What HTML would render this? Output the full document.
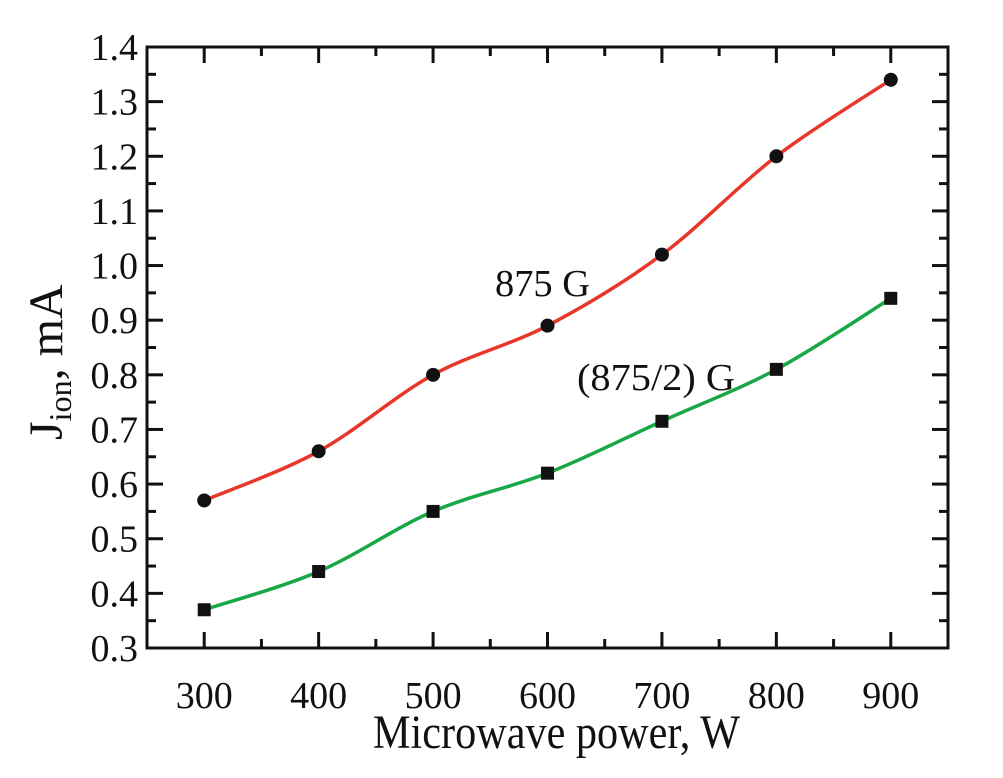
<!DOCTYPE html>
<html><head><meta charset="utf-8"><style>
body{margin:0;background:#fff;}
svg text{font-family:"Liberation Serif",serif;fill:#111;}
</style></head><body>
<svg id="chart" width="1003" height="773" viewBox="0 0 1003 773" xmlns="http://www.w3.org/2000/svg">
<g id="axes"></g>
<g id="series"></g>
<text x="495" y="296" font-size="38" textLength="95" lengthAdjust="spacingAndGlyphs">875 G</text>
<text x="577" y="390" font-size="38" textLength="158" lengthAdjust="spacingAndGlyphs">(875/2) G</text>
<text x="373" y="748" font-size="48" textLength="367" lengthAdjust="spacingAndGlyphs">Microwave power, W</text>
<text transform="translate(62,440) rotate(-90)" font-size="48">J<tspan font-size="32" dy="9">ion</tspan><tspan dy="-9">, mA</tspan></text>
</svg>
<script>
const xCats=[300,400,500,600,700,800,900];
const red=[0.57,0.66,0.80,0.89,1.02,1.20,1.34];
const green=[0.37,0.44,0.55,0.62,0.715,0.81,0.94];
const xTicks=[300,400,500,600,700,800,900];
const yTicks=[0.3,0.4,0.5,0.6,0.7,0.8,0.9,1.0,1.1,1.2,1.3,1.4];
const NS="http://www.w3.org/2000/svg";
const L=147,R=948,T=47,B=648,xmin=250,xmax=950,ymin=0.3,ymax=1.4;
const X=v=>L+(v-xmin)/(xmax-xmin)*(R-L);
const Y=v=>B-(v-ymin)/(ymax-ymin)*(B-T);
function mk(tag,attrs,parent){const e=document.createElementNS(NS,tag);for(const k in attrs)e.setAttribute(k,attrs[k]);parent.appendChild(e);return e;}
const ax=document.getElementById('axes');
const frame=mk('rect',{x:L,y:T,width:R-L,height:B-T,fill:'none',stroke:'#111','stroke-width':3},ax);


for(let v=250;v<=950;v+=50){
  const major=xTicks.includes(v);const len=major?16:9;const x=X(v);
  if(v===250||v===950)continue;
  const t1=mk('line',{x1:x,x2:x,y1:B,y2:B-len,stroke:'#111','stroke-width':3},ax);
  
  
  const t2=mk('line',{x1:x,x2:x,y1:T,y2:T+len,stroke:'#111','stroke-width':3},ax);
  
  
}
xTicks.forEach(v=>{const t=mk('text',{x:X(v),y:B+60,'font-size':38,'text-anchor':'middle'},ax);t.textContent=v;
  
  });
for(let i=0;i<=22;i++){
  const v=ymin+i*0.05;const major=i%2===0;const len=major?16:9;const y=Y(v);
  if(i===0||i===22)continue;
  const t1=mk('line',{x1:L,x2:L+len,y1:y,y2:y,stroke:'#111','stroke-width':3},ax);
  
  
  const t2=mk('line',{x1:R,x2:R-len,y1:y,y2:y,stroke:'#111','stroke-width':3},ax);
  
  
}
yTicks.forEach(v=>{const t=mk('text',{x:138,y:Y(v)+13,'font-size':38,'text-anchor':'end'},ax);t.textContent=v.toFixed(1);
  
  });
function smooth(pts){let d=`M${pts[0][0]},${pts[0][1]}`;
  for(let i=0;i<pts.length-1;i++){const p0=pts[i-1]||pts[i],p1=pts[i],p2=pts[i+1],p3=pts[i+2]||p2;
    const c1=[p1[0]+(p2[0]-p0[0])/6,p1[1]+(p2[1]-p0[1])/6],c2=[p2[0]-(p3[0]-p1[0])/6,p2[1]-(p3[1]-p1[1])/6];
    d+=` C${c1[0]},${c1[1]} ${c2[0]},${c2[1]} ${p2[0]},${p2[1]}`;}return d;}
const sg=document.getElementById('series');
function draw(vals,color,shape,name){
  const pts=xCats.map((c,i)=>[X(c),Y(vals[i])]);
  const p=mk('path',{d:smooth(pts),fill:'none',stroke:color,'stroke-width':3.5},sg);
  
  
  pts.forEach(q=>{let m;
    if(shape==='circle')m=mk('circle',{cx:q[0],cy:q[1],r:7,fill:'#111'},sg);
    else m=mk('rect',{x:q[0]-6.5,y:q[1]-6.5,width:13,height:13,fill:'#111'},sg);
    
    });
}
draw(red,'#e8372a','circle','series-875g');
draw(green,'#17a845','square','series-875-2g');
</script>
</body></html>
